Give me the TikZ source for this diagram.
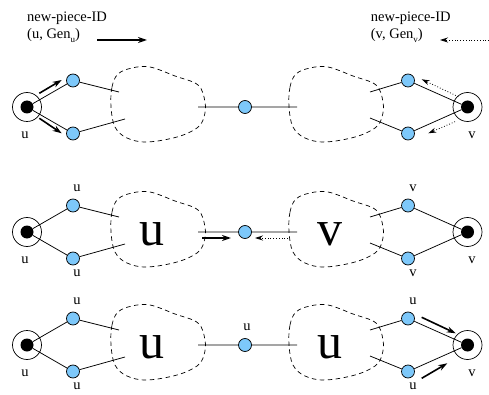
\documentclass[tikz,border=0pt]{standalone}
\usepackage{fontspec}
\setmainfont{Liberation Serif}
\usetikzlibrary{arrows.meta}
\definecolor{nodeblue}{RGB}{125,200,250}
\tikzset{
 bn/.style={circle,draw,fill=nodeblue,minimum size=13pt,inner sep=0pt,line width=0.7pt},
 srcout/.style={circle,draw,minimum size=29pt,inner sep=0pt,line width=0.7pt},
 srcin/.style={circle,fill=black,minimum size=13pt,inner sep=0pt},
 edge/.style={line width=0.75pt},
 blob/.style={dash pattern=on 4.5pt off 3.5pt, line width=0.7pt},
 lbl/.style={font=\fontsize{14.5}{16}\selectfont, anchor=base, inner sep=0pt},
 big/.style={font=\fontsize{50}{50}\selectfont, anchor=base, inner sep=0pt},
 thickarr/.style={line width=1.6pt, -{Stealth[length=9pt,width=6pt]}},
 dotarr/.style={line width=0.8pt, dotted, -{Stealth[length=8pt,width=5pt]}},
}
\newcommand\lowsub[1]{\raisebox{-4pt}{\fontsize{9}{9}\selectfont #1}}
\newcommand\blobshape{plot[smooth cycle,tension=0.6] coordinates {(1,0) (2,-20) (8,-33) (22,-39) (40,-40) (65,-31) (88,-22) (95,-5) (94,10) (87,21) (67,30) (37,35) (17,31) (5,20)}}
\newcommand\drawbaserow{%
 \node[srcout] (slo) at (27,0) {};
 \node[srcin] (sl) at (27,0) {};
 \node[bn] (la) at (73,-26.5) {};
 \node[bn] (lb) at (73,26.5) {};
 \node[bn] (m) at (245,0) {};
 \node[bn] (ra) at (408,-26.5) {};
 \node[bn] (rb) at (408,26.5) {};
 \node[srcout] (sro) at (467.5,0) {};
 \node[srcin] (sr) at (467.5,0) {};
 \coordinate (lae) at (119,-15);
 \coordinate (lbe) at (125,12);
 \coordinate (lme) at (198,0);
 \coordinate (rme) at (297,0);
 \coordinate (rae) at (370,-15);
 \coordinate (rbe) at (370,11);
 \draw[edge] (sl) -- (la) (sl) -- (lb) (la) -- (lae) (lb) -- (lbe) (lme) -- (m) (m) -- (rme) (ra) -- (rae) (rb) -- (rbe) (sr) -- (ra) (sr) -- (rb);
 \draw[blob, shift={(110,0)}] \blobshape;
 \draw[blob, shift={(288,0)}] \blobshape;
 \node[lbl] (su) at (25,31.5) {u};
 \node[lbl] (sv) at (472,31.5) {v};
}
\begin{document}
\begin{tikzpicture}[x=1pt,y=-1pt]
\useasboundingbox (0,0) rectangle (489,395);
% header
\node[lbl, anchor=base west] (h1) at (27,21.7) {new-piece-ID};
\node[lbl, anchor=base west] (h2) at (27,39) {(u, Gen\lowsub{u})};
\node[lbl, anchor=base west] (h3) at (370.7,21.7) {new-piece-ID};
\node[lbl, anchor=base west] (h4) at (370.7,39) {(v, Gen\lowsub{v})};
\coordinate (ha1) at (97,40);
\coordinate (ha2) at (147,40);
\coordinate (hb1) at (489,40);
\coordinate (hb2) at (440,40);
\draw[thickarr] (ha1) -- (ha2);
\draw[dotarr] (hb1) -- (hb2);
% row 1
\begin{scope}[shift={(0,107)}, name prefix=r1-]
 \drawbaserow
 \coordinate (a1s) at (39.3,-13.7); \coordinate (a1e) at (61.7,-27);
 \coordinate (a2s) at (39.3,11.3); \coordinate (a2e) at (61.7,26.3);
 \coordinate (b1s) at (458.3,-10.3); \coordinate (b1e) at (421.7,-27.7);
 \coordinate (b2s) at (455,14.7); \coordinate (b2e) at (428.3,26.3);
 \draw[thickarr] (a1s) -- (a1e);
 \draw[thickarr] (a2s) -- (a2e);
 \draw[dotarr] (b1s) -- (b1e);
 \draw[dotarr] (b2s) -- (b2e);
\end{scope}
% row 2
\begin{scope}[shift={(0,232)}, name prefix=r2-]
 \drawbaserow
 \node[lbl] (lau) at (77,-40.7) {u};
 \node[lbl] (lbu) at (77,44) {u};
 \node[lbl] (rav) at (413,-40.7) {v};
 \node[lbl] (rbv) at (413,44) {v};
 \node[big] (bu) at (152,13) {u};
 \node[big] (bv) at (330,13) {v};
 \coordinate (a1s) at (202,6); \coordinate (a1e) at (231,6);
 \coordinate (b1s) at (288,6); \coordinate (b1e) at (255,6);
 \draw[thickarr] (a1s) -- (a1e);
 \draw[dotarr] (b1s) -- (b1e);
\end{scope}
% row 3
\begin{scope}[shift={(0,345)}, name prefix=r3-]
 \drawbaserow
 \node[lbl] (lau) at (77,-40.7) {u};
 \node[lbl] (lbu) at (77,44) {u};
 \node[lbl] (rau) at (413,-40.7) {u};
 \node[lbl] (rbu) at (413,44) {u};
 \node[lbl] (mu) at (247,-14.7) {u};
 \node[big] (bu) at (152,13) {u};
 \node[big] (bu2) at (330,13) {u};
 \coordinate (a1s) at (421.7,-27.7); \coordinate (a1e) at (455.7,-11.7);
 \coordinate (a2s) at (421.7,33.3); \coordinate (a2e) at (447.3,18.3);
 \draw[thickarr] (a1s) -- (a1e);
 \draw[thickarr] (a2s) -- (a2e);
\end{scope}
\end{tikzpicture}
\end{document}
